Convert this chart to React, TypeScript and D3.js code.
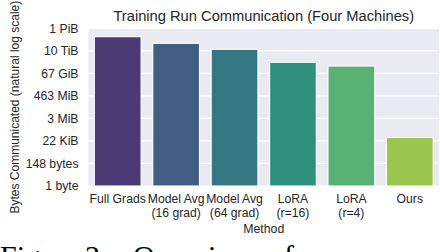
import { useRef, useEffect } from 'react';
import * as d3 from 'd3';

// Methods (x categories), one entry per line of the tick label
const methods = [
  ["Full Grads"],
  ["Model Avg", "(16 grad)"],
  ["Model Avg", "(64 grad)"],
  ["LoRA", "(r=16)"],
  ["LoRA", "(r=4)"],
  ["Ours"],
];
// natural log of bytes communicated
const lnBytes = [33.13, 31.67, 30.34, 27.45, 26.63, 10.76];

// y ticks in natural log units and their labels
const yTicks = [0, 5, 10, 15, 20, 25, 30, 35];
const yTickLabels = ["1 byte", "148 bytes", "22 KiB", "3 MiB", "463 MiB", "67 GiB", "10 TiB", "1 PiB"];

// figure caption underneath (only its top shows)
const captionWords = ["Figure", "2:", "Overview", "of", "our", "run", "and"];
const captionX = [0, 85, 133, 269, 316, 360, 404];

const FONT = '"Liberation Sans", Arial, Helvetica, sans-serif';
const TEXT = '#262626';

export default function App() {
  const ref = useRef<SVGSVGElement>(null);

  useEffect(() => {
    if (!ref.current) return;
    const width = 440;
    const height = 252;
    const plot = { left: 88.5, right: 439, top: 28.3, bottom: 186 };

    const svg = d3.select(ref.current)
      .attr('width', width)
      .attr('height', height);
    svg.selectAll('*').remove();

    const x = d3.scaleBand<number>()
      .domain(d3.range(methods.length))
      .range([plot.left, plot.right])
      .paddingInner(0.2)
      .paddingOuter(0.1);

    const y = d3.scaleLinear()
      .domain([0, 35])
      .range([plot.bottom, plot.top]);

    // background
    svg.append('rect')
      .attr('x', plot.left)
      .attr('y', plot.top)
      .attr('width', plot.right - plot.left)
      .attr('height', plot.bottom - plot.top)
      .attr('fill', '#eaeaf2');

    // grid
    svg.append('g')
      .selectAll('line')
      .data(yTicks)
      .join('line')
      .attr('x1', plot.left)
      .attr('x2', plot.right)
      .attr('y1', d => y(d))
      .attr('y2', d => y(d))
      .attr('stroke', '#fff')
      .attr('stroke-width', 1.2);

    // bars, viridis desaturated like seaborn
    const color = (i: number) => {
      const c = d3.hsl(d3.interpolateViridis((i + 1) / (methods.length + 1)));
      c.s *= 0.75;
      return c.formatHex();
    };

    svg.append('g')
      .selectAll('rect')
      .data(lnBytes)
      .join('rect')
      .attr('x', (_, i) => x(i)!)
      .attr('y', d => y(d))
      .attr('width', x.bandwidth())
      .attr('height', d => y(0) - y(d))
      .attr('fill', (_, i) => color(i))
      .attr('stroke', '#fff')
      .attr('stroke-width', 1.1);

    // y axis
    const yAxis = svg.append('g')
      .attr('transform', `translate(${plot.left},0)`)
      .call(d3.axisLeft(y).tickValues(yTicks).tickSize(0).tickPadding(10)
        .tickFormat((_, i) => yTickLabels[i]));
    yAxis.select('.domain').remove();
    yAxis.selectAll('text')
      .attr('fill', TEXT)
      .style('font-family', FONT)
      .style('font-size', '12.2px');

    // x axis with two-line labels
    const xAxis = svg.append('g')
      .attr('transform', `translate(0,${plot.bottom})`)
      .call(d3.axisBottom(x).tickSize(0).tickPadding(8.8).tickFormat(() => ''));
    xAxis.select('.domain').remove();
    xAxis.selectAll<SVGTextElement, number>('text')
      .attr('fill', TEXT)
      .style('font-family', FONT)
      .style('font-size', '12.2px')
      .each(function (d) {
        const t = d3.select(this);
        methods[d].forEach((line, k) => {
          t.append('tspan')
            .attr('x', 0)
            .attr('dy', k === 0 ? null : '1.1em')
            .text(line);
        });
      });

    // axis titles
    svg.append('text')
      .attr('x', (plot.left + plot.right) / 2)
      .attr('y', 232.5)
      .attr('text-anchor', 'middle')
      .attr('fill', TEXT)
      .style('font-family', FONT)
      .style('font-size', '12.3px')
      .text('Method');

    svg.append('text')
      .attr('transform', `translate(18.5,${(plot.top + plot.bottom) / 2}) rotate(-90)`)
      .attr('text-anchor', 'middle')
      .attr('fill', TEXT)
      .style('font-family', FONT)
      .style('font-size', '12px')
      .text('Bytes Communicated (natural log scale)');

    // title
    svg.append('text')
      .attr('x', (plot.left + plot.right) / 2)
      .attr('y', 20.5)
      .attr('text-anchor', 'middle')
      .attr('fill', TEXT)
      .style('font-family', FONT)
      .style('font-size', '14.7px')
      .text('Training Run Communication (Four Machines)');

    // caption
    svg.append('g')
      .selectAll('text')
      .data(captionWords)
      .join('text')
      .attr('x', (_, i) => captionX[i])
      .attr('y', 266)
      .attr('fill', '#000')
      .style('font-family', '"Liberation Serif", "Times New Roman", serif')
      .style('font-size', '30px')
      .text(d => d);
  }, []);

  return (
    <div style={{ position: 'absolute', left: 0, top: 0, background: '#fff' }}>
      <svg ref={ref} style={{ display: 'block' }}></svg>
    </div>
  );
}
